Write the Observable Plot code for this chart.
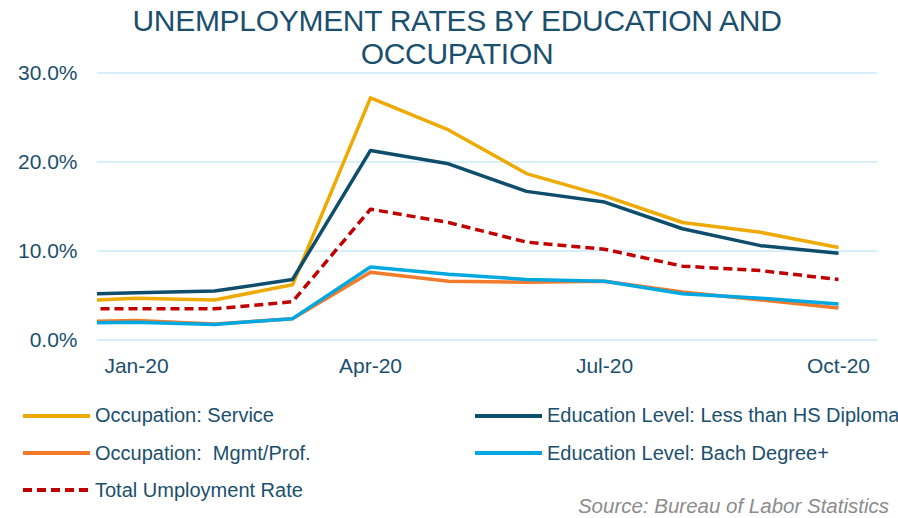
<!DOCTYPE html>
<html><head><meta charset="utf-8">
<script src="https://cdn.jsdelivr.net/npm/d3@7"></script>
<script src="https://cdn.jsdelivr.net/npm/@observablehq/plot@0.6"></script>
<style>
body{margin:0;background:#fff;font-family:"Liberation Sans",Arial,sans-serif;}
#wrap{position:relative;width:898px;height:518px;overflow:hidden;background:#fff;}
#title{position:absolute;left:0;top:4px;width:914px;text-align:center;font-size:30px;line-height:33px;color:#1B4F6E;white-space:pre-line;letter-spacing:-0.3px;}
#chart{position:absolute;left:0;top:0;}
.leg{position:absolute;font-size:20px;color:#1B4F6E;white-space:pre;line-height:20px;}
.legsw{position:absolute;}
#source{position:absolute;right:9px;top:494px;font-size:20.5px;line-height:24px;font-style:italic;color:#8C8C8C;}
</style></head>
<body>
<div id="wrap">
  <div id="title">UNEMPLOYMENT  RATES BY EDUCATION AND
OCCUPATION</div>
  <div id="chart"></div>
  <div id="legend"></div>
  <div id="source">Source: Bureau of Labor Statistics</div>
</div>
<script>
// Months (Dec-19 sits just outside the visible frame and is clipped)
const months = ["Dec-19","Jan-20","Feb-20","Mar-20","Apr-20","May-20","Jun-20","Jul-20","Aug-20","Sep-20","Oct-20"];
const tickLabels = ["Jan-20","Apr-20","Jul-20","Oct-20"];
const yTicks = [0, 10, 20, 30];

// Series values (%)
const service = [4.3, 4.7, 4.5, 6.2, 27.2, 23.6, 18.7, 16.2, 13.2, 12.1, 10.4];
const lessHS  = [5.1, 5.3, 5.5, 6.8, 21.3, 19.8, 16.7, 15.5, 12.5, 10.6, 9.75];
const mgmt    = [2.0, 2.2, 1.8, 2.4, 7.6, 6.6, 6.5, 6.6, 5.4, 4.5, 3.6];
const bach    = [1.9, 2.0, 1.75, 2.4, 8.2, 7.4, 6.8, 6.6, 5.2, 4.7, 4.05];
const total   = [3.5, 3.5, 3.5, 4.3, 14.7, 13.2, 11.0, 10.2, 8.3, 7.8, 6.8];

const seriesNames = ["Occupation: Service","Education Level: Less than HS Diploma","Occupation:  Mgmt/Prof.","Education Level: Bach Degree+","Total Umployment Rate"];
const seriesValues = [service, lessHS, mgmt, bach, total];
const seriesColors = ["#EEAA00","#0E4D6B","#F47A2B","#00A8E1","#C00000"];
const seriesDash = [null, null, null, null, "9,5"];

const idx = m => months.indexOf(m) - 1;

const lineMarks = seriesValues.map((vals, s) => Plot.line(
  months.map((m, i) => ({x: idx(m), y: vals[i]})),
  {x: "x", y: "y", stroke: seriesColors[s], strokeWidth: 3.5, strokeDasharray: seriesDash[s] || undefined,
   strokeLinejoin: "round", strokeLinecap: "butt", clip: true}
));

const chart = Plot.plot({
  width: 898, height: 400,
  marginTop: 72.5, marginBottom: 60.5, marginLeft: 97, marginRight: 21,
  style: {fontFamily: '"Liberation Sans", Arial, sans-serif', fontSize: "21px", color: "#1B4F6E", background: "transparent"},
  x: {type: "linear", domain: [-0.5, 9.5], label: null},
  y: {domain: [0, 30], label: null},
  marks: [
    Plot.ruleY(yTicks, {stroke: "#C8EAF8", strokeWidth: 1.5}),
    ...lineMarks,
    Plot.axisY(yTicks, {tickSize: 0, tickPadding: 20, tickFormat: d => d.toFixed(1) + "%", fontSize: 21, label: null}),
    Plot.axisX(tickLabels.map(idx), {tickSize: 0, tickPadding: 18, tickFormat: d => months[d + 1], fontSize: 21, label: null})
  ]
});
document.getElementById("chart").appendChild(chart);

// Legend
const legPos = [
  {sx: 23, tx: 95, y: 415.5}, {sx: 475, tx: 547, y: 415.5},
  {sx: 23, tx: 95, y: 453}, {sx: 475, tx: 547, y: 453},
  {sx: 23, tx: 95, y: 490}
];
const legend = document.getElementById("legend");
seriesNames.forEach((name, s) => {
  const p = legPos[s];
  const sw = document.createElementNS("http://www.w3.org/2000/svg", "svg");
  sw.setAttribute("class", "legsw");
  sw.setAttribute("width", 68); sw.setAttribute("height", 8);
  sw.style.left = p.sx + "px"; sw.style.top = (p.y - 4) + "px";
  const ln = document.createElementNS("http://www.w3.org/2000/svg", "line");
  ln.setAttribute("x1", 0); ln.setAttribute("x2", 67); ln.setAttribute("y1", 4); ln.setAttribute("y2", 4);
  ln.setAttribute("stroke", seriesColors[s]); ln.setAttribute("stroke-width", 4);
  if (seriesDash[s]) ln.setAttribute("stroke-dasharray", "9,5");
  sw.appendChild(ln);
  legend.appendChild(sw);
  const t = document.createElement("div");
  t.className = "leg"; t.textContent = name;
  t.style.left = p.tx + "px"; t.style.top = (p.y - 10.5) + "px";
  legend.appendChild(t);
});
</script>
</body></html>
